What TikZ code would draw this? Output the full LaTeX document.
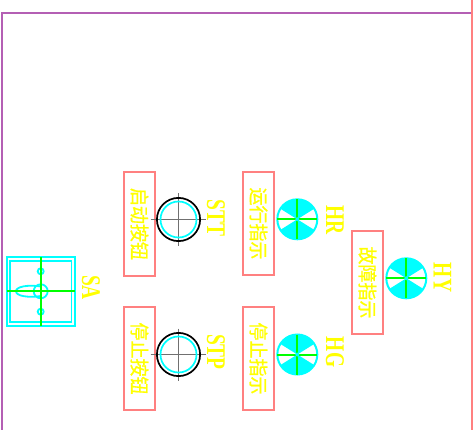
\documentclass[tikz,border=0pt]{standalone}
\usepackage{fontspec}
\setmainfont{Liberation Serif}
\newfontfamily\cjk[FakeBold=1]{Noto Sans CJK SC}
\definecolor{frameM}{HTML}{B45FB4}
\definecolor{boxP}{HTML}{FF8080}
\definecolor{cy}{HTML}{00FFFF}
\definecolor{gr}{HTML}{00FF00}
\definecolor{yl}{HTML}{FFFF00}
\definecolor{crossG}{HTML}{707070}
\tikzset{
 x=1pt,y=-1pt,
 cn/.style={text=yl,rotate=-90,inner sep=0pt,font=\cjk\fontsize{18}{18}\selectfont},
 tag/.style={text=yl,rotate=-90,inner sep=0pt,font=\bfseries\fontsize{27}{27}\selectfont},
}
\newcommand{\boxtext}[4]{% name, x, y, text
 \draw[draw=boxP,line width=2pt] (#2-15.5,#3-51.5) rectangle (#2+15.5,#3+51.5);
 \node[cn] (#1) at (#2,#3) {\scalebox{1}[1.08]{#4}};
}
\newcommand{\pushbtn}[3]{%
 \draw[crossG,line width=1.8pt] (#2-28,#3) -- (#2+27,#3) (#2,#3-26) -- (#2,#3+26);
 \draw[black,line width=1.7pt] (#2,#3) circle (21.6);
 \draw[cy,line width=1.7pt] (#2,#3) circle (18);
 \coordinate (#1) at (#2,#3);
}
\newcommand{\lamp}[3]{%
 \fill[cy] (#2,#3) -- ++(-32:20) arc (-32:-148:20) -- cycle;
 \fill[cy] (#2,#3) -- ++(32:20) arc (32:148:20) -- cycle;
 \draw[cy,line width=2pt] (#2,#3) circle (20);
 \draw[gr,line width=2pt] (#2-20,#3) -- (#2+20,#3) (#2,#3-20) -- (#2,#3+20);
 \fill[cy] (#2,#3) circle (2);
 \coordinate (#1) at (#2,#3);
}
\newcommand{\tagtext}[4]{\node[tag] (#1) at (#2,#3) {\scalebox{0.72}[1]{#4}};}
\begin{document}
\begin{tikzpicture}
\useasboundingbox (0,0) rectangle (473,430);
\fill[white] (0,0) rectangle (473,430);
% frame
\draw[frameM,line width=2pt] (2,430) -- (2,13.5) -- (472,13.5);
\draw[boxP,line width=2pt] (472.4,0) -- (472.4,430);
% selector switch
\draw[cy,line width=2pt] (6.5,257) rectangle (75,326);
\draw[cy,line width=1.8pt] (10,261) rectangle (71.5,322);
\draw[cy,line width=1.8pt] (41,286.5) .. controls (28,284.5) and (16,286.5) .. (16,291.3) .. controls (16,296) and (28,298) .. (41,296);
\draw[cy,line width=1.8pt] (40.7,291.3) circle (7);
\draw[cy,line width=1.8pt] (40.7,271.3) circle (3);
\draw[cy,line width=1.8pt] (40.7,311.7) circle (3);
\draw[gr,line width=1.9pt] (6.5,291.3) -- (75,291.3) (40.7,257) -- (40.7,326);
\tagtext{tSA}{91}{287.5}{SA}
% buttons
\boxtext{bStart}{139.5}{224}{启动按钮}
\pushbtn{STT}{178.5}{219.5}
\tagtext{tSTT}{216}{218}{STT}
\boxtext{bStop}{139.5}{358.5}{停止按钮}
\pushbtn{STP}{178.5}{354.5}
\tagtext{tSTP}{216}{352}{STP}
% lamps
\boxtext{bRun}{258.5}{223.5}{运行指示}
\lamp{HR}{297.3}{219.3}
\tagtext{tHR}{335}{220}{HR}
\boxtext{bStopI}{258.5}{358.5}{停止指示}
\lamp{HG}{297.3}{354.5}
\tagtext{tHG}{335}{352}{HG}
\boxtext{bFault}{367.5}{282.5}{故障指示}
\lamp{HY}{406.3}{278.3}
\tagtext{tHY}{442.5}{277.5}{HY}
\end{tikzpicture}
\end{document}
